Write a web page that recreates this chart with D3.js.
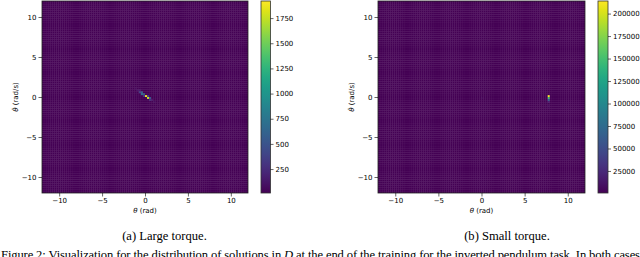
<!DOCTYPE html>
<html lang="en">
<head>
<meta charset="UTF-8">
<title>Pendulum solution distribution</title>
<script src="https://d3js.org/d3.v7.min.js"></script>
<style>
    body { margin: 0; background: #fff; }
    svg { display: block; }
    .tick text { font-family: "DejaVu Sans", sans-serif; font-size: 7px; fill: #000; }
    .tick line { stroke: #000; stroke-width: 0.6; }
    .domain { stroke: none; }
    .axis-label { font-family: "DejaVu Sans", sans-serif; font-size: 7px; }
    .caption { font-family: "Liberation Serif", "Times New Roman", serif; font-size: 12.6px; }
</style>
</head>
<body>
<svg width="640" height="257"></svg>
<script>
// bins of the 2D histogram (same for both panels)
const binEdgesMin = -12, binEdgesMax = 12, binCount = 100;
const axisTicks = [-10, -5, 0, 5, 10];

// (a) Large torque: occupied cells (theta, theta dot, count), rest at floor
const largeFloor = 12;
const largeMax = 1920;
const largeTheta    = [-1.2, -0.96, -0.72, -0.72, -0.48, -0.48, -0.24, -0.24, 0.0, 0.24, 0.24, 0.48, 0.48, 0.72, 0.96];
const largeThetaDot = [0.96, 0.72, 0.72, 0.48, 0.48, 0.24, 0.24, 0.0, 0.0, -0.24, 0.0, -0.24, -0.48, -0.48, -0.72];
const largeCount    = [60, 110, 150, 380, 560, 700, 520, 300, 1900, 1780, 380, 520, 240, 130, 70];
const largeBarTicks = [250, 500, 750, 1000, 1250, 1500, 1750];

// (b) Small torque
const smallFloor = 500;
const smallMax = 214000;
const smallTheta    = [7.8, 7.8, 7.8, 7.8, 7.8, 7.8, 0.2, -4.5];
const smallThetaDot = [0.0, -0.24, -0.48, -0.72, -1.0, -1.4, -0.1, 3.6];
const smallCount    = [214000, 150000, 70000, 18000, 6000, 3500, 4000, 3000];
const smallBarTicks = [25000, 50000, 75000, 100000, 125000, 150000, 175000, 200000];

const svg = d3.select("svg");

function buildGrid(floor, th, thd, cnt) {
    const step = (binEdgesMax - binEdgesMin) / binCount;
    const grid = [];
    for (let j = 0; j < binCount; j++)
        for (let i = 0; i < binCount; i++)
            grid.push({x0: binEdgesMin + i * step, y0: binEdgesMin + j * step, step, v: floor});
    th.forEach((t, k) => {
        const i = Math.floor((t - binEdgesMin) / step);
        const j = Math.floor((thd[k] - binEdgesMin) / step);
        grid[j * binCount + i].v = cnt[k];
    });
    return grid;
}

function panel(opt) {
    const g = svg.append("g");
    const x = d3.scaleLinear().domain([binEdgesMin, binEdgesMax]).range([opt.left, opt.right]);
    const y = d3.scaleLinear().domain([binEdgesMin, binEdgesMax]).range([opt.bottom, opt.top]);
    const color = d3.scaleSequential(d3.interpolateViridis).domain([opt.floor, opt.max]);

    // underlay: the mesh seams let a slightly lighter purple through
    g.append("rect")
        .attr("x", opt.left).attr("y", opt.top)
        .attr("width", opt.right - opt.left).attr("height", opt.bottom - opt.top)
        .attr("fill", d3.interpolateRgb(color(opt.floor), "#ffffff")(0.35));

    const grid = buildGrid(opt.floor, opt.th, opt.thd, opt.cnt);
    g.append("g").selectAll("rect")
        .data(grid)
        .join("rect")
        .attr("x", d => x(d.x0))
        .attr("y", d => y(d.y0 + d.step))
        .attr("width", d => x(d.x0 + d.step) - x(d.x0))
        .attr("height", d => y(d.y0) - y(d.y0 + d.step))
        .attr("fill", d => color(Math.min(d.v, opt.max)));

    g.append("rect")
        .attr("x", opt.left).attr("y", opt.top)
        .attr("width", opt.right - opt.left).attr("height", opt.bottom - opt.top)
        .attr("fill", "none").attr("stroke", "#222").attr("stroke-width", 0.8);

    g.append("g")
        .attr("transform", `translate(0,${opt.bottom})`)
        .call(d3.axisBottom(x).tickValues(axisTicks).tickSize(3.5).tickPadding(2));
    g.append("g")
        .attr("transform", `translate(${opt.left},0)`)
        .call(d3.axisLeft(y).tickValues(axisTicks).tickSize(3.5).tickPadding(2));

    g.append("text")
        .attr("class", "axis-label")
        .attr("x", (opt.left + opt.right) / 2)
        .attr("y", opt.bottom + 20)
        .attr("text-anchor", "middle")
        .html('<tspan font-style="italic">θ</tspan> (rad)');

    g.append("text")
        .attr("class", "axis-label")
        .attr("transform", `translate(${opt.left - 24},${(opt.top + opt.bottom) / 2}) rotate(-90)`)
        .attr("text-anchor", "middle")
        .html('<tspan font-style="italic">θ̇</tspan> (rad/s)');

    // colorbar
    const cb = d3.scaleLinear().domain([opt.floor, opt.max]).range([opt.bottom, opt.top]);
    const gradId = "grad" + opt.id;
    const grad = svg.append("defs").append("linearGradient")
        .attr("id", gradId).attr("x1", 0).attr("y1", 1).attr("x2", 0).attr("y2", 0);
    d3.range(0, 1.0001, 0.05).forEach(t => {
        grad.append("stop").attr("offset", t).attr("stop-color", d3.interpolateViridis(t));
    });
    g.append("rect")
        .attr("x", opt.cbLeft).attr("y", opt.top)
        .attr("width", opt.cbWidth).attr("height", opt.bottom - opt.top)
        .attr("fill", `url(#${gradId})`)
        .attr("stroke", "#333").attr("stroke-width", 0.8);
    g.append("g")
        .attr("transform", `translate(${opt.cbLeft + opt.cbWidth},0)`)
        .call(d3.axisRight(cb).tickValues(opt.barTicks).tickSize(3).tickPadding(2).tickFormat(d3.format("d")));

    svg.append("text")
        .attr("class", "caption")
        .attr("x", opt.captionX)
        .attr("y", 240)
        .attr("text-anchor", "middle")
        .text(opt.caption);
}

panel({id: "a", left: 42, right: 248, top: 1, bottom: 193,
       floor: largeFloor, max: largeMax, th: largeTheta, thd: largeThetaDot, cnt: largeCount,
       cbLeft: 261, cbWidth: 9.5, barTicks: largeBarTicks,
       caption: "(a) Large torque.", captionX: 164.5});

panel({id: "b", left: 378, right: 585, top: 1, bottom: 193,
       floor: smallFloor, max: smallMax, th: smallTheta, thd: smallThetaDot, cnt: smallCount,
       cbLeft: 598, cbWidth: 10, barTicks: smallBarTicks,
       caption: "(b) Small torque.", captionX: 507});

// first line of the figure caption, cut by the bottom edge as in the source page
svg.append("text")
    .attr("class", "caption")
    .attr("x", 1)
    .attr("y", 259)
    .attr("textLength", 639)
    .html('Figure 2: Visualization for the distribution of solutions in <tspan font-style="italic">D</tspan> at the end of the training for the inverted pendulum task. In both cases');
</script>
</body>
</html>
